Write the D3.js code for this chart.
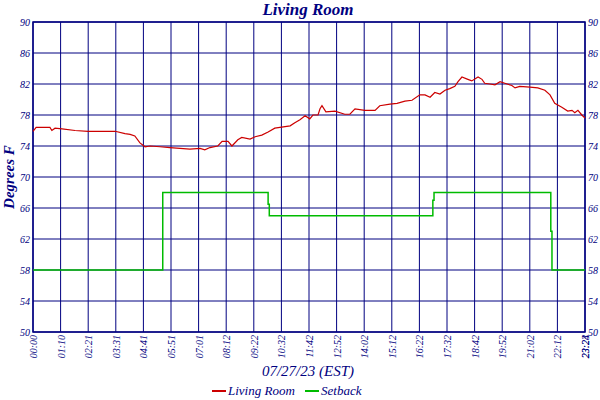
<!DOCTYPE html>
<html><head><meta charset="utf-8">
<script src="https://cdn.jsdelivr.net/npm/d3@7"></script>
<style>body{margin:0;background:#fff}text{font-family:"Liberation Serif",serif;font-style:italic;fill:#000080}</style>
</head><body><svg id="c" width="600" height="400"></svg>
<script>
const tickLabels=["00:00","01:10","02:21","03:31","04:41","05:51","07:01","08:12","09:22","10:32","11:42","12:52","14:02","15:12","16:22","17:32","18:42","19:52","21:02","22:12","23:24"];
const yTicks=[50,54,58,62,66,70,74,78,82,86,90];
const tempMin=[0,8,43,48,56,74,107,140,209,234,247,259,272,285,298,323,348,374,399,425,437,450,470,481,496,506,521,531,552,565,582,598,615,628,654,666,679,692,704,712,725,730,735,745,768,793,806,819,844,870,882,908,926,946,964,984,997,1010,1022,1035,1048,1060,1073,1081,1091,1106,1116,1132,1142,1149,1162,1175,1188,1200,1218,1226,1238,1264,1284,1302,1315,1327,1345,1360,1371,1378,1386,1396,1404];
const tempVal=[75.9,76.4,76.4,76.0,76.3,76.2,76.0,75.9,75.9,75.6,75.5,75.3,74.4,73.9,74.0,73.9,73.8,73.7,73.6,73.7,73.5,73.8,74.0,74.6,74.6,74.0,74.8,75.1,74.9,75.2,75.4,75.8,76.3,76.4,76.6,77.0,77.4,77.9,77.5,78.0,78.0,78.8,79.2,78.4,78.5,78.1,78.1,78.8,78.6,78.6,79.2,79.4,79.5,79.8,79.9,80.6,80.6,80.3,80.9,80.7,81.2,81.4,81.7,82.3,82.9,82.6,82.4,82.9,82.6,82.1,82.0,81.9,82.3,82.1,81.8,81.5,81.7,81.6,81.5,81.2,80.6,79.5,79.0,78.5,78.6,78.3,78.6,78.0,77.6];
const setMin=[0,330,598,601,1017,1020,1317,1320,1404];
const setVal=[58,68,66.5,65,67,68,63,58,58];
const L=33,R=585,T=22,B=332;
const svg=d3.select("#c");
const x=d3.scaleLinear().domain([0,1404]).range([L,R]);
const y=d3.scaleLinear().domain([50,90]).range([B,T]);
const navy="#000080";
const g=svg.append("g");
tickLabels.forEach((t,i)=>{const xv=x(i*1404/20);
 g.append("line").attr("x1",xv).attr("x2",xv).attr("y1",T).attr("y2",B).attr("stroke",navy).attr("stroke-width",1);
 g.append("text").attr("transform",`translate(${xv+4},${B+3}) rotate(-90)`).attr("text-anchor","end").attr("font-size",10).text(t);});
svg.append("text").attr("transform",`translate(${R+4},${B+3}) rotate(-90)`).attr("text-anchor","end").attr("font-size",10).text("23:23");
yTicks.forEach(v=>{const yv=y(v);
 g.append("line").attr("x1",L).attr("x2",R).attr("y1",yv).attr("y2",yv).attr("stroke",navy).attr("stroke-width",1);
 g.append("text").attr("x",L-3).attr("y",yv+4).attr("text-anchor","end").attr("font-size",10).text(v);
 g.append("text").attr("x",R+3).attr("y",yv+4).attr("text-anchor","start").attr("font-size",10).text(v);});
svg.append("rect").attr("x",L).attr("y",T).attr("width",R-L).attr("height",B-T).attr("fill","none").attr("stroke",navy).attr("stroke-width",1.5);
const temp=tempMin.map((m,i)=>[m,tempVal[i]]);
const set=setMin.map((m,i)=>[m,setVal[i]]);
svg.append("path").attr("d",d3.line().x(d=>x(d[0])).y(d=>y(d[1])).curve(d3.curveStepAfter)(set)).attr("fill","none").attr("stroke","#00bb00").attr("stroke-width",1.5);
svg.append("path").attr("d",d3.line().x(d=>x(d[0])).y(d=>y(d[1]))(temp)).attr("fill","none").attr("stroke","#cc0000").attr("stroke-width",1.2);
svg.append("text").attr("x",308).attr("y",15).attr("text-anchor","middle").attr("font-size",17).attr("font-weight","bold").text("Living Room");
svg.append("text").attr("transform","translate(14,177) rotate(-90)").attr("text-anchor","middle").attr("font-size",15).attr("font-weight","bold").text("Degrees F");
svg.append("text").attr("x",308).attr("y",376).attr("text-anchor","middle").attr("font-size",15).text("07/27/23 (EST)");
const lg=[["Living Room","#cc0000",212],["Setback","#00bb00",305]];
lg.forEach(([t,c,lx])=>{svg.append("line").attr("x1",lx).attr("x2",lx+14).attr("y1",391).attr("y2",391).attr("stroke",c).attr("stroke-width",2);
 svg.append("text").attr("x",lx+16).attr("y",395).attr("font-size",13).text(t);});
</script></body></html>
